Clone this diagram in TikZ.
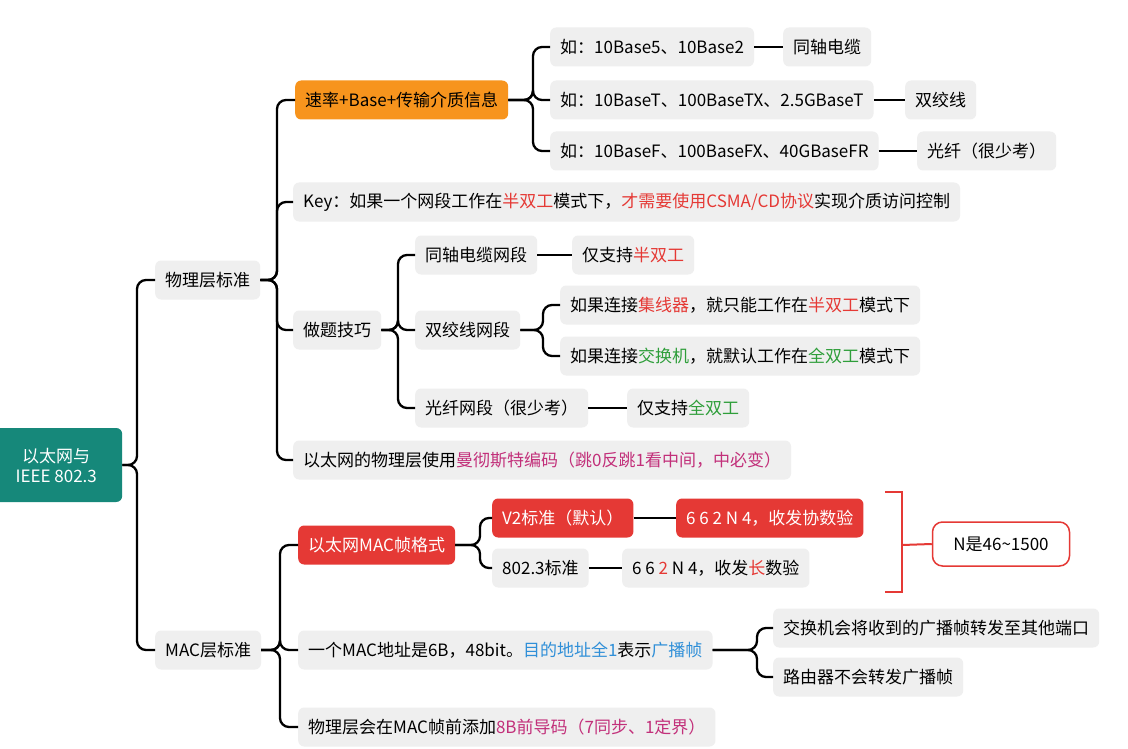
\documentclass[tikz,border=0pt]{standalone}
\usepackage{fontspec}
\setmainfont{Noto Sans CJK SC}
\definecolor{hl}{HTML}{E53935}
\definecolor{pk}{HTML}{C2307A}
\definecolor{gr}{HTML}{2E9E3A}
\definecolor{bl}{HTML}{2F8FD8}
\definecolor{bx}{HTML}{EFEFEF}
\definecolor{tl}{HTML}{16887A}
\definecolor{og}{HTML}{F7941D}
\begin{document}
\begin{tikzpicture}[x=1pt,y=-1pt,
 box/.style={fill=bx,rounded corners=6pt,minimum height=39pt,inner xsep=10pt,anchor=west,font=\fontsize{17}{20}\selectfont},
 redbox/.style={box,fill=hl,text=white},
 conn/.style={line width=2.3pt,rounded corners=9pt}]
\useasboundingbox (0,0) rectangle (1128,749);
\fill[white] (0,0) rectangle (1128,749);
\node[box,fill=tl,text=white,align=center,minimum height=74pt,minimum width=132pt] (root) at (-10,465) {以太网与\\IEEE 802.3};
\node[box] (phy) at (155,280) {物理层标准};
\node[box] (mac) at (155,650) {MAC层标准};
% physical
\node[box,fill=og,text=black] (rate) at (295,100) {速率+Base+传输介质信息};
\node[box] (key) at (293,202) {Key：如果一个网段工作在\textcolor{hl}{半双工}模式下，\textcolor{hl}{才需要使用CSMA/CD协议}实现介质访问控制};
\node[box] (tip) at (293,330) {做题技巧};
\node[box] (man) at (293,460) {以太网的物理层使用\textcolor{pk}{曼彻斯特编码（跳0反跳1看中间，中必变）}};
\node[box] (r1) at (550,47) {如：10Base5、10Base2};
\node[box] (r2) at (550,100) {如：10BaseT、100BaseTX、2.5GBaseT};
\node[box] (r3) at (550,151) {如：10BaseF、100BaseFX、40GBaseFR};
\node[box] (m1) at (783,47) {同轴电缆};
\node[box] (m2) at (905,100) {双绞线};
\node[box] (m3) at (917,151) {光纤（很少考）};
\node[box] (t1) at (415,255) {同轴电缆网段};
\node[box] (t2) at (415,330) {双绞线网段};
\node[box] (t3) at (415,408) {光纤网段（很少考）};
\node[box] (s1) at (572,255) {仅支持\textcolor{hl}{半双工}};
\node[box] (s2a) at (560,305) {如果连接\textcolor{hl}{集线器}，就只能工作在\textcolor{hl}{半双工}模式下};
\node[box] (s2b) at (560,356) {如果连接\textcolor{gr}{交换机}，就默认工作在\textcolor{gr}{全双工}模式下};
\node[box] (s3) at (627,408) {仅支持\textcolor{gr}{全双工}};
% mac
\node[redbox] (fmt) at (298,545) {以太网MAC帧格式};
\node[box] (addr) at (298,650) {一个MAC地址是6B，48bit。\textcolor{bl}{目的地址全1}表示\textcolor{bl}{广播帧}};
\node[box] (pre) at (298,727) {物理层会在MAC帧前添加\textcolor{pk}{8B前导码（7同步、1定界）}};
\node[redbox] (v2) at (492,518) {V2标准（默认）};
\node[box] (e8) at (492,568) {802.3标准};
\node[redbox] (v2f) at (676,518) {6 6 2 N 4，收发协数验};
\node[box] (e8f) at (622,568) {6 6 \textcolor{hl}{2} N 4，收发\textcolor{hl}{长}数验};
\node[box,fill=white,draw=hl,line width=1.5pt,rounded corners=10pt,minimum height=44pt,minimum width=137pt,anchor=center] (N) at (1001,544) {N是46\textasciitilde1500};
\node[box] (a1) at (773,628) {交换机会将收到的广播帧转发至其他端口};
\node[box] (a2) at (773,677) {路由器不会转发广播帧};
% connectors
\foreach \c in {phy,mac} \draw[conn] (root.east) -- (137,465) |- (\c.west);
\foreach \c in {rate,key,tip,man} \draw[conn] (phy.east) -- (277,280) |- (\c.west);
\foreach \c in {r1,r2,r3} \draw[conn] (rate.east) -- (533,100) |- (\c.west);
\draw[conn] (r1.east) -- (m1.west);
\draw[conn] (r2.east) -- (m2.west);
\draw[conn] (r3.east) -- (m3.west);
\foreach \c in {t1,t2,t3} \draw[conn] (tip.east) -- (398,330) |- (\c.west);
\draw[conn] (t1.east) -- (s1.west);
\draw[conn] (t3.east) -- (s3.west);
\foreach \c in {s2a,s2b} \draw[conn] (t2.east) -- (543,330) |- (\c.west);
\foreach \c in {fmt,addr,pre} \draw[conn] (mac.east) -- (280,650) |- (\c.west);
\foreach \c in {v2,e8} \draw[conn] (fmt.east) -- (480,545) |- (\c.west);
\draw[conn] (v2.east) -- (v2f.west);
\draw[conn] (e8.east) -- (e8f.west);
\foreach \c in {a1,a2} \draw[conn] (addr.east) -- (757,650) |- (\c.west);
\coordinate (bm) at (902,545);
\draw[hl,line width=2pt] (885,492) -- (902,492) -- (902,592) -- (885,592);
\draw[hl,line width=2pt] (bm) -- (N.west);
\end{tikzpicture}
\end{document}
